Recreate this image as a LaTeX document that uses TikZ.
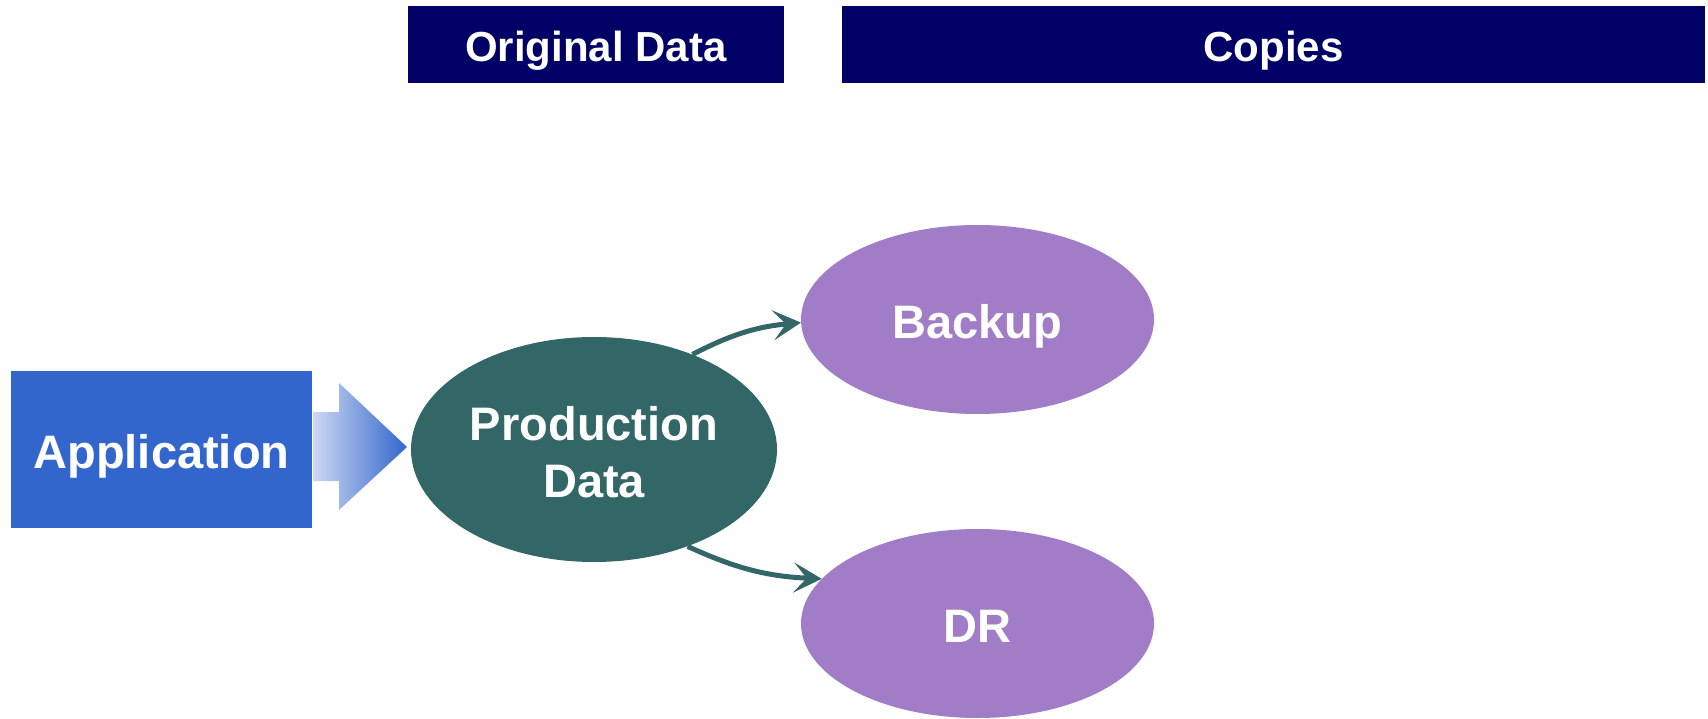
\documentclass[tikz,border=0pt]{standalone}
\usepackage{fontspec}
\setmainfont{Liberation Sans}
\usetikzlibrary{shapes.geometric,arrows.meta}
\definecolor{navy}{HTML}{000066}
\definecolor{appblue}{HTML}{3366CC}
\definecolor{lightblue}{HTML}{CCD7F2}
\definecolor{teal}{HTML}{336666}
\definecolor{lilac}{HTML}{A07DC6}
\tikzset{
  header/.style={fill=navy, text=white, inner sep=0pt, text height=35pt, text depth=0pt,
                 font=\bfseries\fontsize{42}{50}\selectfont},
  blob/.style={ellipse, inner sep=0pt, text=white, align=center, font=\bfseries\fontsize{47}{56.4}\selectfont},
  oneline/.style={text height=37pt, text depth=0pt},
  flow/.style={draw=teal, line width=5pt, -{Stealth[length=28pt,width=30pt,inset=13pt]}},
}
\begin{document}
\begin{tikzpicture}[x=1pt,y=-1pt]
\useasboundingbox (0,0) rectangle (1708,719);
% column headers
\node[header, minimum width=376pt, minimum height=77pt] (orig) at (596,44.5) {Original Data};
\node[header, minimum width=863pt, minimum height=77pt] (copies) at (1273.5,44.5) {Copies};
% application box
\node[fill=appblue, text=white, inner sep=0pt, minimum width=301pt, minimum height=157pt, oneline,
      font=\bfseries\fontsize{47}{56.4}\selectfont] (app) at (161.5,449.5) {Application};
% shaded block arrow into production data
\shade[left color=lightblue, right color=appblue]
  (313,412) -- (339,412) -- (339,383) -- (407,447) -- (339,510) -- (339,481) -- (313,481) -- cycle;
% data sets
\node[blob, fill=teal, minimum width=366pt, minimum height=225pt] (prod) at (594,449.5) {};
\node[text=white, align=center, font=\bfseries\fontsize{47}{56.4}\selectfont] (prodtext) at (594,452) {Production\\Data};
\node[blob, oneline, fill=lilac, minimum width=353pt, minimum height=189pt] (backup) at (977.5,319.5) {Backup};
\node[blob, oneline, fill=lilac, minimum width=353pt, minimum height=189pt] (dr) at (977.5,623.5) {DR};
% copy flows
\draw[flow] (prod.44) to[bend left=11] (backup.181);
\draw[flow] (prod.-46) to[bend right=11] (dr.164);
\end{tikzpicture}
\end{document}
